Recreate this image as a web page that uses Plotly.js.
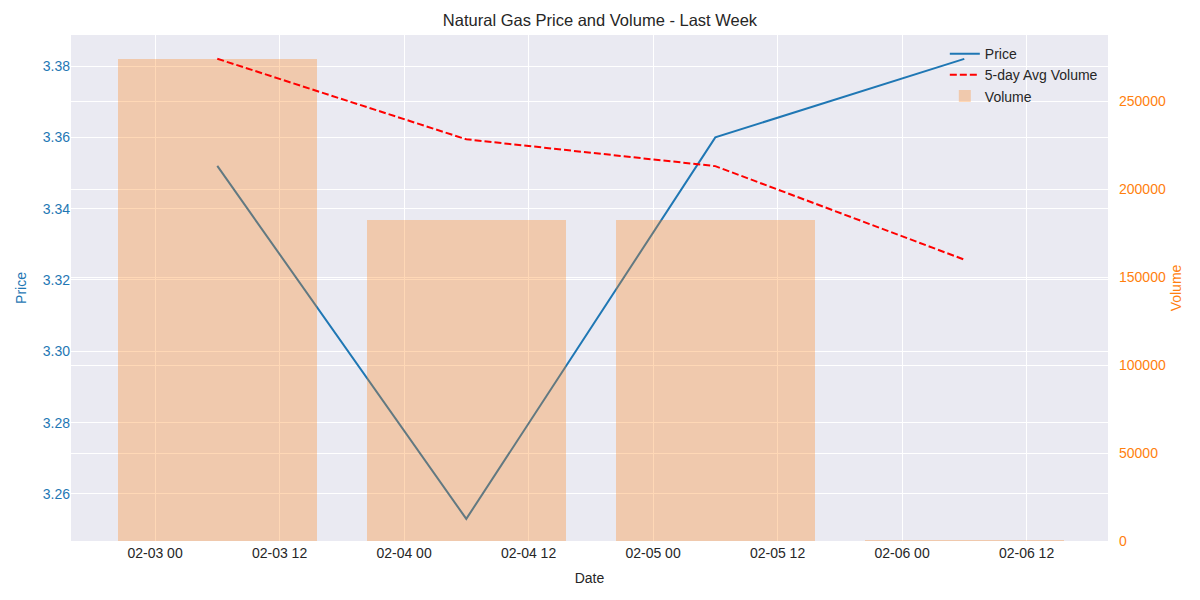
<!DOCTYPE html>
<html>
<head>
<meta charset="utf-8">
<script src="https://cdn.plot.ly/plotly-3.0.1.min.js"></script>
<style>html,body{margin:0;padding:0;background:#fff;}#chart{width:1200px;height:600px;}</style>
</head>
<body>
<div id="chart"></div>
<script>
const dates = ["2025-02-03 06:00", "2025-02-04 06:00", "2025-02-05 06:00", "2025-02-06 06:00"];
const price = [3.352, 3.253, 3.360, 3.382];
const volume = [274000, 182500, 182500, 500];
const avgVolume = [274000, 228250, 213000, 159875];
const xTickFormat = "%m-%d %H";

const font = "Liberation Sans, Arial, sans-serif";
const blue = "#1f77b4", orange = "#ff7f0e";

const traces = [
  {x: dates, y: price, name: "Price", type: "scatter", mode: "lines",
   line: {color: blue, width: 2}, yaxis: "y"},
  {x: dates, y: avgVolume, name: "5-day Avg Volume", type: "scatter", mode: "lines",
   line: {color: "red", width: 2, dash: "7px,3px"}, yaxis: "y2"},
  {x: dates, y: volume, name: "Volume", type: "bar", width: 0.8*86400000,
   marker: {color: "rgba(255,127,14,0.3)", line: {width: 0}}, yaxis: "y2"}
];

const layout = {
  width: 1200, height: 600,
  margin: {l: 71, r: 92, t: 35, b: 59},
  paper_bgcolor: "#ffffff", plot_bgcolor: "#EAEAF2",
  font: {family: font, size: 14, color: "#262626"},
  title: {text: "Natural Gas Price and Volume - Last Week", x: 0.5, xanchor: "center", y: 0.967, yanchor: "middle", font: {size: 16.5, color: "#262626"}},
  showlegend: true,
  legend: {x: 0.995, xanchor: "right", y: 0.994, yanchor: "top", bgcolor: "rgba(0,0,0,0)", font: {size: 14, color: "#262626"}, traceorder: "normal", itemwidth: 30},
  bargap: 0,
  xaxis: {
    type: "date", range: ["2025-02-02 15:54", "2025-02-06 19:51"],
    tickformat: xTickFormat, dtick: 43200000, tick0: "2025-02-03 00:00",
    showgrid: true, gridcolor: "#ffffff", gridwidth: 1, zeroline: false,
    ticks: "", showline: false, ticklabelstandoff: 2,
    tickfont: {size: 14, color: "#262626"},
    title: {text: "Date", font: {size: 14, color: "#262626"}, standoff: 13}
  },
  yaxis: {
    range: [3.2468, 3.3887], dtick: 0.02, tick0: 3.26, tickformat: ".2f",
    showgrid: true, gridcolor: "#ffffff", gridwidth: 1, zeroline: false,
    ticks: "", showline: false,
    tickfont: {size: 14, color: blue},
    title: {text: "Price", font: {size: 14, color: blue}, standoff: 12}
  },
  yaxis2: {
    overlaying: "y", side: "right",
    range: [0, 287500], dtick: 50000, tick0: 0, tickformat: "d",
    showgrid: true, gridcolor: "#ffffff", gridwidth: 1, zeroline: false,
    ticks: "", showline: false, ticklabelstandoff: 10,
    tickfont: {size: 14, color: orange},
    title: {text: "Volume", font: {size: 14, color: orange}, standoff: 6}
  }
};

Plotly.newPlot("chart", traces, layout, {displayModeBar: false, staticPlot: true});
</script>
</body>
</html>
